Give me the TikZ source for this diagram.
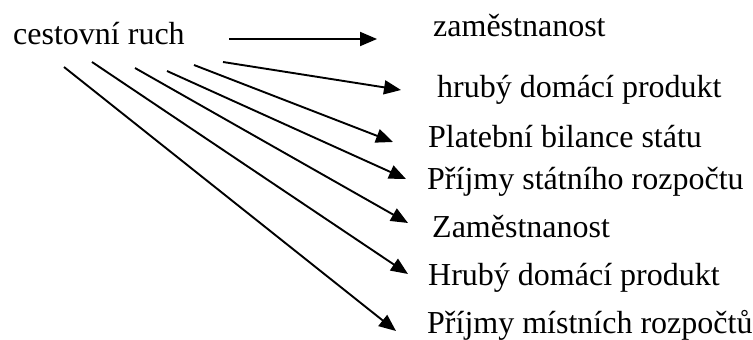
\documentclass[tikz,border=0pt]{standalone}
\usepackage{fontspec}
\setmainfont{Liberation Serif}
\usetikzlibrary{arrows.meta}
\begin{document}
\begin{tikzpicture}[x=1pt,y=-1pt,
  lbl/.style={anchor=base west,inner sep=0pt,font=\fontsize{32pt}{38pt}\selectfont},
  conn/.style={line width=1.9pt,-{Triangle[length=17pt,width=14pt]}}]
\useasboundingbox (0,0) rectangle (753,340);
% texts
\node[lbl] (cr) at (13,44.5) {cestovní ruch};
\node[lbl] (t1) at (433,36) {zaměstnanost};
\node[lbl] (t2) at (437,97) {hrubý domácí produkt};
\node[lbl] (t3) at (428,147.5) {Platební bilance státu};
\node[lbl] (t4) at (427,189) {Příjmy státního rozpočtu};
\node[lbl] (t5) at (432,237) {Zaměstnanost};
\node[lbl] (t6) at (428,285) {Hrubý domácí produkt};
\node[lbl] (t7) at (427,333) {Příjmy místních rozpočtů};
% connector ends
\coordinate (s1) at (229,39);  \coordinate (e1) at (377,39);
\coordinate (s2) at (223,62);  \coordinate (e2) at (401,90);
\coordinate (s3) at (194,65);  \coordinate (e3) at (393,142);
\coordinate (s4) at (167,71);  \coordinate (e4) at (406,179);
\coordinate (s5) at (135,68);  \coordinate (e5) at (408,223);
\coordinate (s6) at (92,62);   \coordinate (e6) at (408,274);
\coordinate (s7) at (64,67);   \coordinate (e7) at (396,331);
\foreach \i in {1,...,7} {\draw[conn] (s\i) -- (e\i);}
\end{tikzpicture}
\end{document}
